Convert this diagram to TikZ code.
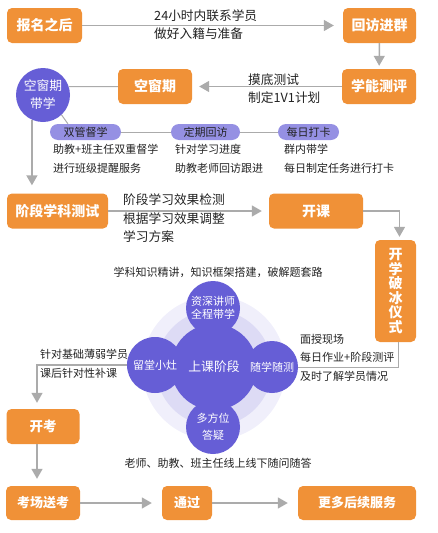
\documentclass[tikz,border=0pt]{standalone}
\usepackage{fontspec}
\setmainfont{Noto Sans CJK SC}
\usepackage{tikz}
\usetikzlibrary{arrows.meta}

\definecolor{steporange}{HTML}{F09137}
\definecolor{bubble}{HTML}{665ED6}
\definecolor{pilllight}{HTML}{9590E3}
\definecolor{haloout}{HTML}{F0EFFB}
\definecolor{haloin}{HTML}{DDDBF5}
\definecolor{wire}{HTML}{ABABAB}
\definecolor{note}{HTML}{222222}

\begin{document}
\begin{tikzpicture}[x=1pt, y=-1pt,
  box/.style={rectangle, fill=steporange, rounded corners=5pt, minimum height=35pt,
              inner sep=0pt, align=center, text=white,
              font=\fontsize{14}{16}\selectfont\bfseries},
  dot/.style={circle, fill=bubble, inner sep=0pt, align=center, text=white,
              font=\fontsize{11}{12.5}\selectfont},
  pill/.style={rectangle, fill=pilllight, rounded corners=8pt, minimum height=16pt,
               inner sep=0pt, text=note, font=\fontsize{11}{12}\selectfont},
  remark/.style={inner sep=0pt, align=left, text=note,
                 font=\fontsize{12.7}{18.5}\selectfont},
  small/.style={inner sep=0pt, align=left, text=note,
                font=\fontsize{11}{19}\selectfont},
  arrow/.style={-{Triangle[width=11pt,length=10pt]}, wire, line width=1.5pt},
  thin/.style={wire, line width=1pt}
]
\useasboundingbox (0,0) rectangle (437,533);

%% Halo behind the lesson stage
\node[circle, fill=haloout, minimum size=144pt] (haloa) at (214,368) {};
\node[circle, fill=haloin,  minimum size=116pt] (halob) at (214,368) {};

%% Top row
\node[box, minimum width=75pt] at (44.5,25.5)  (baoming) {报名之后};
\node[box, minimum width=73pt] at (379.5,25.5) (huifang) {回访进群};
\node[box, minimum width=74pt] at (379,86.5)   (xueneng) {学能测评};
\node[box, minimum width=74pt] at (155,86.5)   (kongbox) {空窗期};
\node[dot, minimum size=54pt, font=\fontsize{12.8}{18}\selectfont]
      at (43,95) (kongdot) {空窗期\\带学};

%% Pills
\node[pill, minimum width=71pt] at (85.5,132)  (shuang) {双管督学};
\node[pill, minimum width=69pt] at (205.5,132) (dingqi) {定期回访};
\node[pill, minimum width=61pt] at (308.5,132) (meiri)  {每日打卡};

%% Middle row
\node[box, minimum width=101pt] at (57.5,211) (jieduan) {阶段学科测试};
\node[box, minimum width=94pt]  at (316,211)  (kaike)   {开课};
\node[box, minimum width=41pt, minimum height=102pt, font=\fontsize{14}{14.6}\selectfont\bfseries]
      at (395.5,291) (pobing) {开\\学\\破\\冰\\仪\\式};

%% Lesson stage
\node[dot, minimum size=86pt, font=\fontsize{12.8}{14}\selectfont] at (214,367) (shangke) {上课阶段};
\node[dot, minimum size=54pt] at (213,308) (zishen)  {资深讲师\\全程带学};
\node[dot, minimum size=56pt] at (155,365) (liutang) {留堂小灶};
\node[dot, minimum size=52pt] at (272,367) (suixue)  {随学随测};
\node[dot, minimum size=54pt, font=\fontsize{11}{17.5}\selectfont]
      at (213,427) (duofang) {多方位\\答疑};

%% Bottom rows
\node[box, minimum width=73pt, font=\fontsize{13.5}{16}\selectfont\bfseries] at (43,426.5) (kaikao) {开考};
\node[box, minimum width=74pt, minimum height=34pt, font=\fontsize{13}{16}\selectfont\bfseries]
      at (43,503) (songkao) {考场送考};
\node[box, minimum width=50pt, minimum height=34pt, font=\fontsize{13}{16}\selectfont\bfseries]
      at (187,503) (tongguo) {通过};
\node[box, minimum width=118pt, minimum height=34pt, font=\fontsize{13}{16}\selectfont\bfseries]
      at (357,503) (houxu) {更多后续服务};

%% Texts
\node[remark, anchor=west] at (154,24.5) (t24)   {24小时内联系学员\\做好入籍与准备};
\node[remark, anchor=west] at (248,88.5) (tmodi) {摸底测试\\制定1V1计划};
\node[remark, anchor=west] at (123,218.5) (tjd)  {阶段学习效果检测\\根据学习效果调整\\学习方案};
\node[small, anchor=west] at (53,158.5)  (tshuang) {助教+班主任双重督学\\进行班级提醒服务};
\node[small, anchor=west] at (175,158.5) (tdingqi) {针对学习进度\\助教老师回访跟进};
\node[small, anchor=west] at (284,158.5) (tmeiri)  {群内带学\\每日制定任务进行打卡};
\node[small, align=center] at (218,272) (tzishen) {学科知识精讲，知识框架搭建，破解题套路};
\node[small, anchor=west] at (40,363.5) (tliutang) {针对基础薄弱学员\\课后针对性补课};
\node[small, anchor=west, font=\fontsize{11}{18.5}\selectfont]
      at (300,357.5) (tsuixue) {面授现场\\每日作业+阶段测评\\及时了解学员情况};
\node[small, align=center] at (218,463) (tduofang) {老师、助教、班主任线上线下随问随答};

%% Arrows
\draw[arrow, shorten >=9pt] (baoming) -- (huifang);
\draw[arrow, shorten >=3pt] (huifang) -- (xueneng);
\draw[arrow, shorten >=7pt] (xueneng) -- (kongbox);
\draw[thin] (kongbox.west) -- (kongdot.18);
\draw[thin] (kongdot.-47) -- (shuang.155);
\draw[thin] (shuang) -- (dingqi) -- (meiri);
\draw[arrow, shorten >=8pt] (kongdot.-114) -- (kongdot.-114 |- jieduan.north);
\draw[arrow, shorten >=7pt] (jieduan) -- (kaike);
\draw[arrow, shorten >=3pt] (kaike.east) -| ([xshift=4pt]pobing.north);
\draw[thin] ([xshift=3pt]pobing.south) |- (suixue.east);
\draw[arrow, shorten >=6pt] (liutang.west) -| ([xshift=-6pt]kaikao.north);
\draw[arrow, shorten >=7pt] ([xshift=-6pt]kaikao.south) -- ([xshift=-6pt]songkao.north);
\draw[arrow, shorten >=10pt] (songkao) -- (tongguo);
\draw[arrow, shorten >=10pt] (tongguo) -- (houxu);
\end{tikzpicture}
\end{document}
